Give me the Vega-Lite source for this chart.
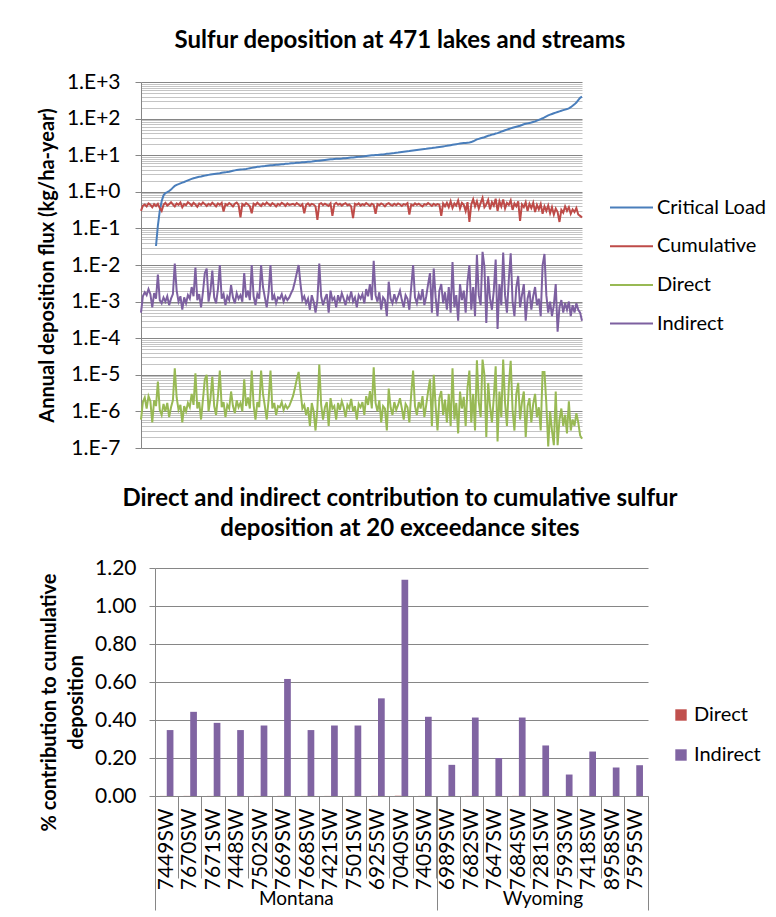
{
"$schema":"https://vega.github.io/schema/vega-lite/v6.json",
"padding":{"left":37,"top":29,"right":0,"bottom":0},
"config":{"font":"Lato","view":{"stroke":null},
"title":{"font":"Lato","fontSize":24,"fontWeight":"bold","color":"#000"},
"axis":{"labelFont":"Lato","titleFont":"Lato","labelColor":"#000","titleColor":"#000","labelFontSize":21,"titleFontSize":20,"titleFontWeight":"bold","domainColor":"#868686","tickColor":"#868686","gridColor":"#868686"},
"legend":{"labelFont":"Lato","labelFontSize":20,"labelColor":"#000"}},
"spacing":29,
"resolve":{"scale":{"color":"independent"},"legend":{"color":"independent"}},
"vconcat":[
{"title":{"text":"Sulfur deposition at 471 lakes and streams","frame":"group","anchor":"middle","offset":18,"dx":38.5},
"width":441,"height":366,
"data":{"values":[
{"s":1,"u":0.3,"n":5e-4,"d":6e-7},
{"s":3,"u":0.42,"n":1.4e-3,"d":1.8e-6},
{"s":5,"u":0.45,"n":1.8e-3,"d":2.4e-6},
{"s":7,"u":0.4,"n":1.5e-3,"d":1.2e-6},
{"s":9,"u":0.48,"n":2.2e-3,"d":2.6e-6},
{"s":11,"u":0.44,"n":1.6e-3,"d":1.9e-6},
{"s":13,"u":0.38,"n":7e-4,"d":5e-7},
{"s":15,"u":0.46,"n":1.7e-3,"d":2e-6},
{"s":17,"c":0.033,"u":0.41,"n":1.2e-3,"d":1.4e-6},
{"s":19,"c":0.12,"u":0.47,"n":5.5e-3,"d":6.5e-6},
{"s":21,"c":0.3,"u":0.36,"n":1.1e-3,"d":1.1e-6},
{"s":23,"c":0.55,"u":0.3,"n":9e-4,"d":8e-7},
{"s":25,"c":0.8,"u":0.44,"n":1.3e-3,"d":1.6e-6},
{"s":27,"c":0.92,"u":0.5,"n":1e-3,"d":1e-6},
{"s":29,"c":0.98,"u":0.42,"n":1.4e-3,"d":1.7e-6},
{"s":31,"c":1.05,"u":0.46,"n":8e-4,"d":7e-7},
{"s":33,"c":1.15,"u":0.52,"n":1.2e-3,"d":1.3e-6},
{"s":35,"c":1.3,"u":0.45,"n":1.6e-3,"d":2e-6},
{"s":37,"c":1.45,"u":0.4,"n":1.1e-2,"d":1.5e-5},
{"s":39,"c":1.55,"u":0.48,"n":2e-3,"d":2.4e-6},
{"s":41,"c":1.62,"u":0.44,"n":1e-3,"d":1.1e-6},
{"s":43,"c":1.7,"u":0.51,"n":1.4e-3,"d":1.5e-6},
{"s":45,"c":1.78,"u":0.38,"n":6e-4,"d":5e-7},
{"s":47,"c":1.85,"u":0.46,"n":1.3e-3,"d":1.4e-6},
{"s":49,"c":1.95,"u":0.43,"n":9e-4,"d":1e-6},
{"s":51,"c":2.05,"u":0.52,"n":1.5e-3,"d":1.7e-6},
{"s":53,"c":2.15,"u":0.47,"n":1.2e-3,"d":1.3e-6},
{"s":55,"c":2.25,"u":0.42,"n":2.5e-3,"d":3e-6},
{"s":57,"c":2.35,"u":0.5,"n":1.4e-3,"d":1.5e-6},
{"s":59,"c":2.42,"u":0.45,"n":8.5e-3,"d":1.1e-5},
{"s":61,"c":2.5,"u":0.39,"n":1.1e-3,"d":1.2e-6},
{"s":63,"c":2.57,"u":0.48,"n":1.6e-3,"d":1.8e-6},
{"s":65,"c":2.63,"u":0.44,"n":7e-4,"d":6e-7},
{"s":67,"c":2.7,"u":0.51,"n":1.8e-3,"d":2.1e-6},
{"s":69,"c":2.77,"u":0.46,"n":6e-3,"d":7.5e-6},
{"s":71,"c":2.84,"u":0.41,"n":8e-3,"d":1e-5},
{"s":73,"c":2.9,"u":0.47,"n":1e-3,"d":1e-6},
{"s":75,"c":2.95,"u":0.43,"n":1.9e-3,"d":2.2e-6},
{"s":77,"c":3,"u":0.5,"n":7e-3,"d":9e-6},
{"s":79,"c":3.05,"u":0.45,"n":1.3e-3,"d":1.4e-6},
{"s":81,"c":3.1,"u":0.4,"n":9e-4,"d":8e-7},
{"s":83,"c":3.15,"u":0.48,"n":2.2e-3,"d":2.6e-6},
{"s":85,"c":3.2,"u":0.44,"n":1e-2,"d":1.3e-5},
{"s":87,"c":3.3,"u":0.5,"n":1.2e-3,"d":1.3e-6},
{"s":89,"c":3.35,"u":0.29,"n":1.6e-3,"d":1.8e-6},
{"s":91,"c":3.4,"u":0.46,"n":8e-4,"d":7e-7},
{"s":93,"c":3.5,"u":0.43,"n":1.4e-3,"d":1.5e-6},
{"s":95,"c":3.55,"u":0.49,"n":1.1e-3,"d":1.2e-6},
{"s":97,"c":3.65,"u":0.45,"n":2.8e-3,"d":3.5e-6},
{"s":99,"c":3.75,"u":0.4,"n":1.3e-3,"d":1.4e-6},
{"s":101,"c":3.85,"u":0.47,"n":9e-4,"d":9e-7},
{"s":103,"c":3.92,"u":0.51,"n":1.7e-3,"d":2e-6},
{"s":105,"c":4,"u":0.44,"n":1.2e-3,"d":1.3e-6},
{"s":107,"c":4.05,"u":0.2,"n":1.5e-3,"d":1.7e-6},
{"s":109,"c":4.1,"u":0.46,"n":1e-3,"d":1e-6},
{"s":111,"c":4.15,"u":0.42,"n":6e-3,"d":7.5e-6},
{"s":113,"c":4.2,"u":0.49,"n":1.3e-3,"d":1.4e-6},
{"s":115,"c":4.3,"u":0.45,"n":2e-3,"d":2.4e-6},
{"s":117,"c":4.4,"u":0.4,"n":1.1e-3,"d":1.2e-6},
{"s":119,"c":4.5,"u":0.26,"n":1e-2,"d":1.3e-5},
{"s":121,"c":4.6,"u":0.47,"n":1.4e-3,"d":1.5e-6},
{"s":123,"c":4.7,"u":0.43,"n":8e-4,"d":6e-7},
{"s":125,"c":4.8,"u":0.5,"n":1.6e-3,"d":1.8e-6},
{"s":127,"c":4.85,"u":0.45,"n":1.2e-3,"d":1.3e-6},
{"s":129,"c":4.95,"u":0.41,"n":1e-2,"d":1.3e-5},
{"s":131,"c":5,"u":0.48,"n":2.5e-3,"d":3e-6},
{"s":133,"c":5.05,"u":0.44,"n":1.3e-3,"d":1.4e-6},
{"s":135,"c":5.15,"u":0.51,"n":7e-4,"d":6e-7},
{"s":137,"c":5.25,"u":0.46,"n":1.8e-3,"d":2.1e-6},
{"s":139,"c":5.3,"u":0.42,"n":1e-2,"d":1.3e-5},
{"s":141,"c":5.35,"u":0.49,"n":1.1e-3,"d":1.2e-6},
{"s":143,"c":5.4,"u":0.45,"n":1.5e-3,"d":1.7e-6},
{"s":145,"c":5.45,"u":0.4,"n":9e-4,"d":8e-7},
{"s":147,"c":5.5,"u":0.47,"n":1.3e-3,"d":1.4e-6},
{"s":149,"c":5.6,"u":0.43,"n":1.2e-3,"d":1.3e-6},
{"s":151,"c":5.65,"u":0.5,"n":1.6e-3,"d":1.8e-6},
{"s":153,"c":5.7,"u":0.46,"n":1e-3,"d":1.1e-6},
{"s":155,"c":5.8,"u":0.41,"n":1.4e-3,"d":1.5e-6},
{"s":157,"c":5.85,"u":0.48,"n":1.1e-3,"d":1.2e-6},
{"s":159,"c":5.9,"u":0.44,"n":1.3e-3,"d":1.4e-6},
{"s":161,"c":6,"u":0.45,"n":1.7e-3,"d":1.9e-6},
{"s":163,"c":6.05,"u":0.47,"n":2.2e-3,"d":2.6e-6},
{"s":165,"c":6.1,"u":0.43,"n":3.5e-3,"d":4.3e-6},
{"s":167,"c":6.2,"u":0.49,"n":6e-3,"d":7.5e-6},
{"s":169,"c":6.25,"u":0.45,"n":1e-2,"d":1.2e-5},
{"s":171,"c":6.3,"u":0.41,"n":3e-3,"d":3.6e-6},
{"s":173,"c":6.4,"u":0.46,"n":1.1e-3,"d":1.2e-6},
{"s":175,"c":6.45,"u":0.26,"n":1.4e-3,"d":1.5e-6},
{"s":177,"c":6.55,"u":0.44,"n":9e-4,"d":8e-7},
{"s":179,"c":6.6,"u":0.48,"n":1.2e-3,"d":1.3e-6},
{"s":181,"c":6.65,"u":0.42,"n":6e-4,"d":4e-7},
{"s":183,"c":6.7,"u":0.47,"n":1.5e-3,"d":1.7e-6},
{"s":185,"c":6.8,"u":0.45,"n":1e-3,"d":1e-6},
{"s":187,"c":6.9,"u":0.4,"n":5e-4,"d":3e-7},
{"s":189,"c":7,"u":0.17,"n":1.1e-3,"d":1.2e-6},
{"s":191,"c":7.1,"u":0.46,"n":1.1e-2,"d":1.9e-5},
{"s":193,"c":7.2,"u":0.49,"n":1.4e-3,"d":1.5e-6},
{"s":195,"c":7.3,"u":0.43,"n":8e-4,"d":6e-7},
{"s":197,"c":7.4,"u":0.47,"n":1.2e-3,"d":1.3e-6},
{"s":199,"c":7.5,"u":0.44,"n":1.6e-3,"d":1.8e-6},
{"s":201,"c":7.6,"u":0.41,"n":5e-4,"d":4e-7},
{"s":203,"c":7.7,"u":0.48,"n":2e-3,"d":2.3e-6},
{"s":205,"c":7.8,"u":0.22,"n":1.1e-3,"d":1.2e-6},
{"s":207,"c":7.9,"u":0.45,"n":1.3e-3,"d":1.4e-6},
{"s":209,"c":7.95,"u":0.5,"n":7e-4,"d":6e-7},
{"s":211,"c":8,"u":0.44,"n":1.5e-3,"d":1.7e-6},
{"s":213,"c":8.05,"u":0.47,"n":1e-3,"d":1.1e-6},
{"s":215,"c":8.1,"u":0.42,"n":1.7e-3,"d":1.9e-6},
{"s":217,"c":8.2,"u":0.46,"n":1.2e-3,"d":1.3e-6},
{"s":219,"c":8.3,"u":0.49,"n":8e-4,"d":7e-7},
{"s":221,"c":8.4,"u":0.43,"n":1.4e-3,"d":1.5e-6},
{"s":223,"c":8.5,"u":0.45,"n":1.1e-3,"d":1.2e-6},
{"s":225,"c":8.6,"u":0.4,"n":1.9e-3,"d":2.2e-6},
{"s":227,"c":8.7,"u":0.19,"n":1e-3,"d":1e-6},
{"s":229,"c":8.8,"u":0.47,"n":1.3e-3,"d":1.4e-6},
{"s":231,"c":8.9,"u":0.44,"n":7e-4,"d":6e-7},
{"s":233,"c":9,"u":0.48,"n":1.5e-3,"d":1.6e-6},
{"s":235,"c":9.1,"u":0.42,"n":1.2e-3,"d":1.3e-6},
{"s":237,"c":9.2,"u":0.46,"n":1.6e-3,"d":1.8e-6},
{"s":239,"c":9.3,"u":0.43,"n":9e-4,"d":8e-7},
{"s":241,"c":9.45,"u":0.49,"n":2.2e-3,"d":2.6e-6},
{"s":243,"c":9.6,"u":0.45,"n":1.4e-3,"d":1.5e-6},
{"s":245,"c":9.75,"u":0.41,"n":3e-3,"d":3.6e-6},
{"s":247,"c":9.9,"u":0.47,"n":1.1e-3,"d":1.2e-6},
{"s":249,"c":10,"u":0.44,"n":1.3e-2,"d":1.6e-5},
{"s":251,"c":10.1,"u":0.25,"n":1.5e-3,"d":1.7e-6},
{"s":253,"c":10.2,"u":0.46,"n":1e-3,"d":1e-6},
{"s":255,"c":10.3,"u":0.43,"n":1.8e-3,"d":2e-6},
{"s":257,"c":10.4,"u":0.48,"n":6e-4,"d":5e-7},
{"s":259,"c":10.5,"u":0.45,"n":1.3e-3,"d":1.4e-6},
{"s":261,"c":10.7,"u":0.4,"n":1.1e-3,"d":1.2e-6},
{"s":263,"c":10.9,"u":0.46,"n":4e-4,"d":3e-7},
{"s":265,"c":11,"u":0.49,"n":3.5e-3,"d":4.2e-6},
{"s":267,"c":11.2,"u":0.44,"n":1.2e-3,"d":1.3e-6},
{"s":269,"c":11.35,"u":0.42,"n":9e-4,"d":8e-7},
{"s":271,"c":11.5,"u":0.47,"n":1.6e-3,"d":1.8e-6},
{"s":273,"c":11.7,"u":0.43,"n":1e-3,"d":1.1e-6},
{"s":275,"c":11.8,"u":0.48,"n":1.4e-3,"d":1.5e-6},
{"s":277,"c":12,"u":0.45,"n":2e-3,"d":2.3e-6},
{"s":279,"c":12.2,"u":0.41,"n":1.1e-3,"d":1.2e-6},
{"s":281,"c":12.4,"u":0.46,"n":7e-4,"d":6e-7},
{"s":283,"c":12.6,"u":0.44,"n":1.5e-3,"d":1.6e-6},
{"s":285,"c":12.8,"u":0.49,"n":1.2e-3,"d":1.3e-6},
{"s":287,"c":13,"u":0.24,"n":6e-4,"d":5e-7},
{"s":289,"c":13.3,"u":0.45,"n":2.5e-3,"d":3e-6},
{"s":291,"c":13.5,"u":0.42,"n":1e-2,"d":1.3e-5},
{"s":293,"c":13.7,"u":0.48,"n":1.3e-3,"d":1.4e-6},
{"s":295,"c":13.9,"u":0.44,"n":9e-4,"d":8e-7},
{"s":297,"c":14.1,"u":0.47,"n":1.6e-3,"d":1.8e-6},
{"s":299,"c":14.3,"u":0.43,"n":1.1e-3,"d":1.2e-6},
{"s":301,"c":14.5,"u":0.4,"n":2.2e-3,"d":2.6e-6},
{"s":303,"c":14.7,"u":0.46,"n":8e-4,"d":7e-7},
{"s":305,"c":14.9,"u":0.44,"n":1.4e-3,"d":1.5e-6},
{"s":307,"c":15.2,"u":0.49,"n":3e-3,"d":3.6e-6},
{"s":309,"c":15.5,"u":0.45,"n":6e-3,"d":7.5e-6},
{"s":311,"c":15.7,"u":0.41,"n":5e-4,"d":4e-7},
{"s":313,"c":16,"u":0.47,"n":8e-3,"d":1e-5},
{"s":315,"c":16.2,"u":0.43,"n":1.3e-3,"d":1.4e-6},
{"s":317,"c":16.5,"u":0.46,"n":4e-4,"d":3e-7},
{"s":319,"c":16.8,"u":0.44,"n":2e-3,"d":2.3e-6},
{"s":321,"c":17.1,"u":0.22,"n":3e-3,"d":3.6e-6},
{"s":323,"c":17.4,"u":0.48,"n":9e-4,"d":8e-7},
{"s":325,"c":17.7,"u":0.4,"n":1.8e-3,"d":2.1e-6},
{"s":327,"c":18,"u":0.5,"n":6e-4,"d":5e-7},
{"s":329,"c":18.4,"u":0.38,"n":2.5e-3,"d":3e-6},
{"s":331,"c":18.8,"u":0.55,"n":5e-4,"d":4e-7},
{"s":333,"c":19.2,"u":0.36,"n":1.2e-2,"d":1.5e-5},
{"s":335,"c":19.6,"u":0.48,"n":7e-4,"d":6e-7},
{"s":337,"c":20,"u":0.42,"n":1.5e-3,"d":1.7e-6},
{"s":339,"c":20.4,"u":0.58,"n":3e-4,"d":2.5e-7},
{"s":341,"c":20.8,"u":0.35,"n":3e-3,"d":3.5e-6},
{"s":343,"c":21.1,"u":0.5,"n":1.1e-3,"d":1.2e-6},
{"s":345,"c":21.4,"u":0.44,"n":2e-3,"d":2.5e-6},
{"s":347,"c":21.7,"u":0.3,"n":5e-4,"d":4e-7},
{"s":349,"c":22,"u":0.52,"n":3.5e-3,"d":4.5e-6},
{"s":351,"c":22.3,"u":0.15,"n":1e-2,"d":1.3e-5},
{"s":353,"c":22.8,"u":0.45,"n":6e-4,"d":5e-7},
{"s":355,"c":24,"u":0.62,"n":2.5e-3,"d":3e-6},
{"s":357,"c":25.5,"u":0.4,"n":4e-4,"d":3e-7},
{"s":359,"c":27,"u":0.55,"n":1.9e-2,"d":2.5e-5},
{"s":361,"c":28,"u":0.35,"n":1.5e-3,"d":1.8e-6},
{"s":363,"c":29,"u":0.5,"n":8e-4,"d":7e-7},
{"s":365,"c":30,"u":0.68,"n":2.3e-2,"d":2.6e-5},
{"s":367,"c":31,"u":0.38,"n":9e-3,"d":1e-5},
{"s":369,"c":32.5,"u":0.45,"n":2.6e-4,"d":2e-7},
{"s":371,"c":34,"u":0.6,"n":5e-3,"d":6e-6},
{"s":373,"c":35,"u":0.33,"n":1.2e-3,"d":1.4e-6},
{"s":375,"c":36.5,"u":0.52,"n":6e-4,"d":5e-7},
{"s":377,"c":37.5,"u":0.42,"n":2e-3,"d":2.4e-6},
{"s":379,"c":39,"u":0.65,"n":1.4e-2,"d":1.7e-5},
{"s":381,"c":40,"u":0.3,"n":1.8e-4,"d":1.5e-7},
{"s":383,"c":42,"u":0.55,"n":3e-3,"d":3.5e-6},
{"s":385,"c":44,"u":0.4,"n":8e-4,"d":7e-7},
{"s":387,"c":46,"u":0.62,"n":2.2e-2,"d":2.6e-5},
{"s":389,"c":48,"u":0.35,"n":1.5e-3,"d":1.7e-6},
{"s":391,"c":50,"u":0.5,"n":5e-4,"d":4e-7},
{"s":393,"c":52,"u":0.44,"n":4e-3,"d":5e-6},
{"s":395,"c":54,"u":0.58,"n":2.1e-2,"d":2.4e-5},
{"s":397,"c":56,"u":0.32,"n":1e-3,"d":1.1e-6},
{"s":399,"c":58,"u":0.48,"n":4e-4,"d":3e-7},
{"s":401,"c":60,"u":0.4,"n":2.5e-3,"d":3e-6},
{"s":403,"c":62,"u":0.55,"n":5e-3,"d":6e-6},
{"s":405,"c":64,"u":0.16,"n":7e-4,"d":6e-7},
{"s":407,"c":67,"u":0.45,"n":1.5e-3,"d":1.8e-6},
{"s":409,"c":70,"u":0.38,"n":3e-3,"d":3.5e-6},
{"s":411,"c":72,"u":0.52,"n":3e-4,"d":2e-7},
{"s":413,"c":74,"u":0.3,"n":1.2e-3,"d":1.4e-6},
{"s":415,"c":76,"u":0.47,"n":2e-3,"d":2.3e-6},
{"s":417,"c":78,"u":0.36,"n":6e-4,"d":5e-7},
{"s":419,"c":81,"u":0.5,"n":1.4e-3,"d":1.6e-6},
{"s":421,"c":84,"u":0.28,"n":2.5e-3,"d":3e-6},
{"s":423,"c":88,"u":0.44,"n":8e-4,"d":7e-7},
{"s":425,"c":92,"u":0.33,"n":1.2e-3,"d":1.3e-6},
{"s":427,"c":97,"u":0.46,"n":4e-4,"d":3e-7},
{"s":429,"c":102,"u":0.25,"n":1e-2,"d":1.2e-5},
{"s":431,"c":108,"u":0.4,"n":2e-2,"d":1.2e-5},
{"s":433,"c":115,"u":0.3,"n":1.5e-3,"d":1.6e-6},
{"s":435,"c":122,"u":0.42,"n":5e-4,"d":1.1e-7},
{"s":437,"c":128,"u":0.26,"n":1e-3,"d":1e-6},
{"s":439,"c":134,"u":0.38,"n":4e-4,"d":3e-7},
{"s":441,"c":140,"u":0.24,"n":8e-4,"d":1.2e-7},
{"s":443,"c":146,"u":0.35,"n":3e-3,"d":3.5e-6},
{"s":445,"c":152,"u":0.28,"n":1.5e-4,"d":1.2e-7},
{"s":447,"c":158,"u":0.15,"n":7e-4,"d":6e-7},
{"s":449,"c":164,"u":0.32,"n":1.1e-3,"d":1.2e-6},
{"s":451,"c":170,"u":0.27,"n":5e-4,"d":4e-7},
{"s":453,"c":176,"u":0.4,"n":9e-4,"d":8e-7},
{"s":455,"c":182,"u":0.3,"n":6e-4,"d":2.5e-7},
{"s":457,"c":190,"u":0.38,"n":1e-3,"d":1.9e-6},
{"s":459,"c":205,"u":0.25,"n":4e-4,"d":3e-7},
{"s":461,"c":225,"u":0.33,"n":8e-4,"d":6e-7},
{"s":463,"c":245,"u":0.28,"n":5e-4,"d":4e-7},
{"s":465,"c":275,"u":0.36,"n":9e-4,"d":9e-7},
{"s":467,"c":320,"u":0.24,"n":6e-4,"d":5e-7},
{"s":469,"c":370,"u":0.22,"n":5e-4,"d":2.2e-7},
{"s":471,"c":400,"u":0.2,"n":3e-4,"d":1.8e-7}
]},
"transform":[{"fold":["c","u","d","n"],"as":["series","value"]}],
"mark":{"type":"line","strokeWidth":2},
"encoding":{
"x":{"field":"s","type":"quantitative","scale":{"domain":[1,471],"nice":false,"zero":false},"axis":null},
"y":{"field":"value","type":"quantitative","scale":{"type":"log","domain":[1e-7,1000],"nice":false},
"axis":{"title":"Annual deposition flux (kg/ha-year)","titlePadding":9,"labelPadding":15,"tickSize":6,"labelOverlap":false,
"values":[1e-7,2e-7,3e-7,4e-7,5e-7,6e-7,7e-7,8e-7,9e-7,1e-6,2e-6,3e-6,4e-6,5e-6,6e-6,7e-6,8e-6,9e-6,1e-5,2e-5,3e-5,4e-5,5e-5,6e-5,7e-5,8e-5,9e-5,1e-4,2e-4,3e-4,4e-4,5e-4,6e-4,7e-4,8e-4,9e-4,0.001,0.002,0.003,0.004,0.005,0.006,0.007,0.008,0.009,0.01,0.02,0.03,0.04,0.05,0.06,0.07,0.08,0.09,0.1,0.2,0.3,0.4,0.5,0.6,0.7,0.8,0.9,1,2,3,4,5,6,7,8,9,10,20,30,40,50,60,70,80,90,100,200,300,400,500,600,700,800,900,1000],
"labelExpr":"abs(log(datum.value)/LN10 - round(log(datum.value)/LN10)) < 0.01 ? '1.E' + (round(log(datum.value)/LN10) >= 0 ? '+' : '') + round(log(datum.value)/LN10) : ''",
"tickOpacity":{"condition":{"test":"abs(log(datum.value)/LN10 - round(log(datum.value)/LN10)) < 0.01","value":1},"value":0},
"gridColor":{"condition":{"test":"abs(log(datum.value)/LN10 - round(log(datum.value)/LN10)) < 0.01","value":"#868686"},"value":"#c4c4c4"}}},
"color":{"field":"series","type":"nominal","scale":{"domain":["c","u","d","n"],"range":["#4A7EBB","#BE4B48","#98B954","#7D60A0"]},
"legend":{"title":null,"orient":"none","legendX":468,"legendY":103,"padding":0,"symbolType":"stroke","symbolSize":1849,"symbolStrokeWidth":2,"labelOffset":3,"rowPadding":5.7,
"labelExpr":"datum.label == 'c' ? 'Critical Load' : datum.label == 'u' ? 'Cumulative' : datum.label == 'd' ? 'Direct' : 'Indirect'"}}
}},
{"title":{"text":["Direct and indirect contribution to cumulative sulfur","deposition at 20 exceedance sites"],"frame":"group","anchor":"middle","offset":16,"lineHeight":30,"dx":5.5},
"width":507,"height":228,
"data":{"values":[
{"site":"7449SW","state":"Montana","Direct":0.0004,"Indirect":0.347},
{"site":"7670SW","state":"Montana","Direct":0.0005,"Indirect":0.443},
{"site":"7671SW","state":"Montana","Direct":0.0004,"Indirect":0.385},
{"site":"7448SW","state":"Montana","Direct":0.0004,"Indirect":0.347},
{"site":"7502SW","state":"Montana","Direct":0.0004,"Indirect":0.371},
{"site":"7669SW","state":"Montana","Direct":0.0007,"Indirect":0.616},
{"site":"7668SW","state":"Montana","Direct":0.0004,"Indirect":0.347},
{"site":"7421SW","state":"Montana","Direct":0.0004,"Indirect":0.371},
{"site":"7501SW","state":"Montana","Direct":0.0004,"Indirect":0.371},
{"site":"6925SW","state":"Montana","Direct":0.0006,"Indirect":0.514},
{"site":"7040SW","state":"Montana","Direct":0.0013,"Indirect":1.138},
{"site":"7405SW","state":"Montana","Direct":0.0005,"Indirect":0.417},
{"site":"6989SW","state":"Wyoming","Direct":0.0002,"Indirect":0.164},
{"site":"7682SW","state":"Wyoming","Direct":0.0005,"Indirect":0.413},
{"site":"7647SW","state":"Wyoming","Direct":0.0002,"Indirect":0.2},
{"site":"7684SW","state":"Wyoming","Direct":0.0005,"Indirect":0.413},
{"site":"7281SW","state":"Wyoming","Direct":0.0003,"Indirect":0.266},
{"site":"7593SW","state":"Wyoming","Direct":0.0001,"Indirect":0.113},
{"site":"7418SW","state":"Wyoming","Direct":0.0003,"Indirect":0.234},
{"site":"8958SW","state":"Wyoming","Direct":0.0002,"Indirect":0.15},
{"site":"7595SW","state":"Wyoming","Direct":0.0002,"Indirect":0.162}
]},
"transform":[{"fold":["Direct","Indirect"],"as":["series","value"]}],
"layer":[
{"mark":{"type":"bar"},
"encoding":{
"x":{"field":"site","type":"nominal","sort":null,"scale":{"paddingInner":0,"paddingOuter":0,"range":[14,507]},
"axis":{"title":null,"labelAngle":270,"bandPosition":0,"tickSize":82,"labelPadding":-70,"labelFontSize":21,"domainColor":"#868686","tickColor":"#868686","labelOverlap":false}},
"xOffset":{"field":"series","type":"nominal","scale":{"domain":["Direct","Indirect"],"paddingInner":0,"paddingOuter":0.75}},
"y":{"field":"value","type":"quantitative","scale":{"domain":[0,1.2],"nice":false},
"axis":{"title":["% contribution to cumulative","deposition"],"titlePadding":8,"titleLineHeight":27,"titleY":134,"offset":-14,"values":[0,0.2,0.4,0.6,0.8,1,1.2],"format":".2f","grid":true,"gridColor":"#868686","tickSize":6,"labelPadding":13}},
"color":{"field":"series","type":"nominal","scale":{"domain":["Direct","Indirect"],"range":["#C0504D","#8064A2"]},
"legend":{"title":null,"orient":"none","legendX":530,"legendY":137,"padding":0,"symbolType":"square","symbolSize":130,"symbolStrokeWidth":0,"labelOffset":3,"rowPadding":20}}
}},
{"mark":{"type":"rule","opacity":0},
"encoding":{
"x":{"datum":0,"type":"quantitative","scale":{"domain":[0,21],"nice":false,"zero":false,"range":[14,507]},
"axis":{"orient":"bottom","title":null,"domain":false,"grid":false,"values":[0,6,12,16.5,21],"tickSize":114,"labelPadding":-21,"labelAngle":0,"labelFontSize":19,"labelFlush":false,"labelOverlap":false,"labelBound":false,
"labelExpr":"datum.value == 6 ? 'Montana' : datum.value == 16.5 ? 'Wyoming' : ''",
"tickOpacity":{"condition":{"test":"datum.value == 6 || datum.value == 16.5","value":0},"value":1}}}
}}
],
"resolve":{"scale":{"x":"independent"}}
}
]
}
